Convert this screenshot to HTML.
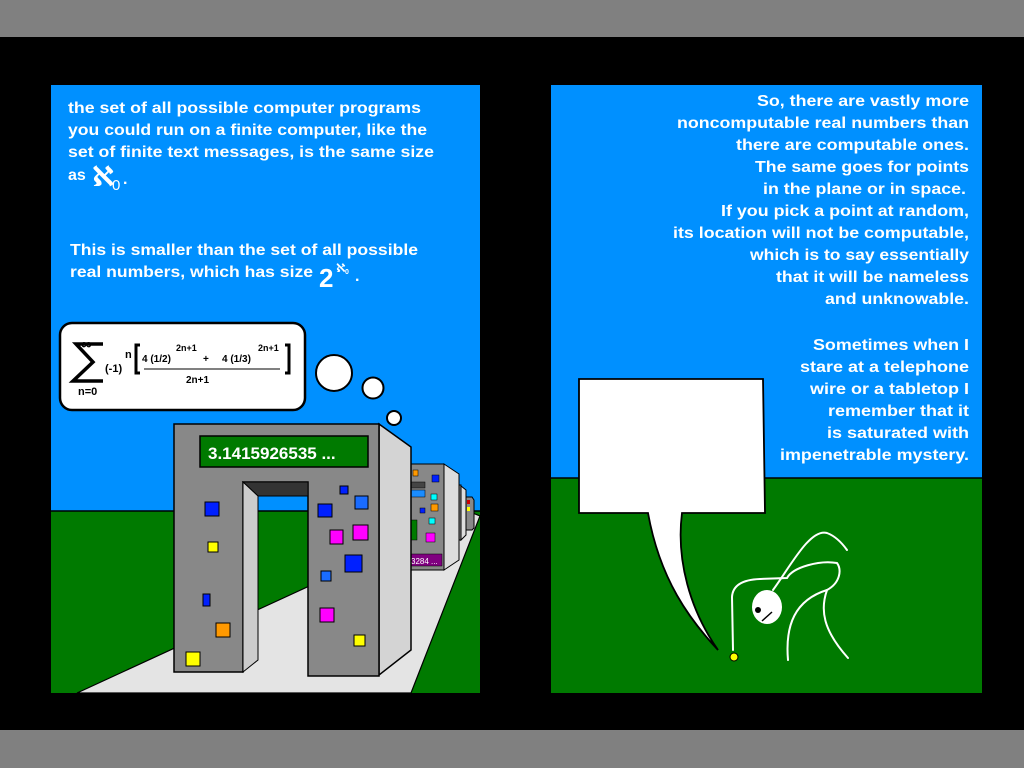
<!DOCTYPE html>
<html><head><meta charset="utf-8"><style>html,body{margin:0;padding:0;background:#000}svg{display:block}</style></head>
<body>
<svg width="1024" height="768" viewBox="0 0 1024 768" xmlns="http://www.w3.org/2000/svg" font-family="Liberation Sans, sans-serif" font-weight="bold">
<rect width="1024" height="768" fill="#000"/>
<rect width="1024" height="37" fill="#808080"/>
<rect y="730" width="1024" height="38" fill="#808080"/>
<!-- LEFT PANEL -->
<rect x="51" y="85" width="429" height="608" fill="#0090ff"/>
<rect x="51" y="511" width="429" height="182" fill="#007a00"/>
<line x1="51" y1="511" x2="480" y2="511" stroke="#000" stroke-width="1.5"/>
<polygon points="77,693 411,693 480,516 470,512" fill="#e4e4e4" stroke="#000" stroke-width="1.2"/>
<g fill="#fff" font-size="16">
<text x="68" y="113" textLength="353" lengthAdjust="spacingAndGlyphs">the set of all possible computer programs</text>
<text x="68" y="135" textLength="359" lengthAdjust="spacingAndGlyphs">you could run on a finite computer, like the</text>
<text x="68" y="157" textLength="366" lengthAdjust="spacingAndGlyphs">set of finite text messages, is the same size</text>
<text x="68" y="180">as</text>
<text x="92" y="186" font-size="28" font-family="DejaVu Sans, sans-serif">ℵ</text>
<text x="112" y="190" font-size="15" font-weight="normal">0</text>
<text x="123" y="184">.</text>
<text x="70" y="255" textLength="348" lengthAdjust="spacingAndGlyphs">This is smaller than the set of all possible</text>
<text x="70" y="277" textLength="243" lengthAdjust="spacingAndGlyphs">real numbers, which has size</text>
<text x="319" y="287" font-size="26">2</text>
<text x="336" y="272" font-size="12" font-family="DejaVu Sans, sans-serif">ℵ</text>
<text x="345" y="274" font-size="7">0</text>
<text x="355" y="281">.</text>
</g>
<!-- formula bubble -->
<rect x="60" y="323" width="245" height="87" rx="12" fill="#fff" stroke="#000" stroke-width="2.5"/>
<path d="M103,344 H76 L93,362 L73,381 H103" fill="none" stroke="#000" stroke-width="3.5" stroke-linejoin="miter"/>
<text x="81" y="349" font-size="15">∞</text>
<text x="78" y="395" font-size="11">n=0</text>
<text x="105" y="372" font-size="11">(-1)</text>
<text x="125" y="358" font-size="11">n</text>
<path d="M140,345 h-4 v28 h4" fill="none" stroke="#000" stroke-width="3"/>
<path d="M285,345 h4 v28 h-4" fill="none" stroke="#000" stroke-width="3"/>
<text x="142" y="362" font-size="10">4 (1/2)</text>
<text x="176" y="351" font-size="9">2n+1</text>
<text x="203" y="362" font-size="10">+</text>
<text x="222" y="362" font-size="10">4 (1/3)</text>
<text x="258" y="351" font-size="9">2n+1</text>
<line x1="144" y1="369" x2="280" y2="369" stroke="#000" stroke-width="1"/>
<text x="186" y="383" font-size="10">2n+1</text>
<circle cx="334" cy="373" r="18" fill="#fff" stroke="#000" stroke-width="2"/>
<circle cx="373" cy="388" r="10.5" fill="#fff" stroke="#000" stroke-width="2"/>
<circle cx="394" cy="418" r="7" fill="#fff" stroke="#000" stroke-width="2"/>
<!-- far buildings -->
<polygon points="466,497 472,497 474,500 474,528 472,530 466,530" fill="#888" stroke="#000"/>
<rect x="467" y="500" width="3" height="4" fill="#c00"/><rect x="467" y="507" width="3" height="4" fill="#ff0"/>
<polygon points="461,486 466,490 466,535 461,540" fill="#ddd" stroke="#000"/>
<rect x="452" y="485" width="9" height="55" fill="#888" stroke="#000"/>
<rect x="454" y="489" width="4" height="4" fill="#a00"/><rect x="454" y="497" width="3" height="30" fill="#1a6cff"/>
<polygon points="444,464 459,474 459,560 444,570" fill="#ddd" stroke="#000"/>
<rect x="408" y="464" width="36" height="106" fill="#888" stroke="#000"/>
<rect x="413" y="470" width="5" height="6" fill="#f90" stroke="#000" stroke-width=".5"/>
<rect x="432" y="475" width="7" height="7" fill="#0020ff" stroke="#000" stroke-width=".5"/>
<rect x="411" y="482" width="14" height="6" fill="#444" stroke="#000" stroke-width=".5"/>
<rect x="411" y="490" width="14" height="7" fill="#1a8cff" stroke="#000" stroke-width=".5"/>
<rect x="431" y="494" width="6" height="6" fill="#0ff" stroke="#000" stroke-width=".5"/>
<rect x="431" y="504" width="7" height="7" fill="#f90" stroke="#000" stroke-width=".5"/>
<rect x="420" y="508" width="5" height="5" fill="#0020ff" stroke="#000" stroke-width=".5"/>
<rect x="429" y="518" width="6" height="6" fill="#0ff" stroke="#000" stroke-width=".5"/>
<rect x="426" y="533" width="9" height="9" fill="#f0f" stroke="#000" stroke-width=".5"/>
<rect x="410" y="520" width="7" height="20" fill="#007a00" stroke="#000" stroke-width=".5"/>
<rect x="408" y="554" width="34" height="12" fill="#800080" stroke="#000" stroke-width=".5"/>
<text x="411" y="564" font-size="8" fill="#fff" font-weight="normal">3284 ...</text>
<!-- main arch -->
<polygon points="379,424 411,447 411,650 379,675" fill="#d4d4d4" stroke="#000" stroke-width="1.5"/>
<path d="M174,424 H379 V676 H308 V482 H243 V672 H174 Z" fill="#888" stroke="#000" stroke-width="1.5"/>
<polygon points="243,482 308,482 308,496 258,496" fill="#333" stroke="#000"/>
<polygon points="243,482 258,496 258,660 243,672" fill="#ccc" stroke="#000"/>
<rect x="200" y="436" width="168" height="31" fill="#007a00" stroke="#000" stroke-width="1.5"/>
<text x="208" y="459" font-size="17" fill="#fff">3.1415926535 ...</text>
<g stroke="#000" stroke-width="1">
<rect x="205" y="502" width="14" height="14" fill="#0020ff"/>
<rect x="208" y="542" width="10" height="10" fill="#ff0"/>
<rect x="203" y="594" width="7" height="12" fill="#0020ff"/>
<rect x="216" y="623" width="14" height="14" fill="#f90"/>
<rect x="186" y="652" width="14" height="14" fill="#ff0"/>
<rect x="340" y="486" width="8" height="8" fill="#0020ff"/>
<rect x="355" y="496" width="13" height="13" fill="#1a6cff"/>
<rect x="318" y="504" width="14" height="13" fill="#0020ff"/>
<rect x="330" y="530" width="13" height="14" fill="#f0f"/>
<rect x="353" y="525" width="15" height="15" fill="#f0f"/>
<rect x="345" y="555" width="17" height="17" fill="#0020ff"/>
<rect x="321" y="571" width="10" height="10" fill="#1a6cff"/>
<rect x="320" y="608" width="14" height="14" fill="#f0f"/>
<rect x="354" y="635" width="11" height="11" fill="#ff0"/>
</g>
<!-- RIGHT PANEL -->
<rect x="551" y="85" width="431" height="608" fill="#0090ff"/>
<rect x="551" y="478" width="431" height="215" fill="#007a00"/>
<line x1="551" y1="478" x2="982" y2="478" stroke="#000" stroke-width="1.5"/>
<g fill="#fff" font-size="16" text-anchor="end">
<text x="969" y="106" textLength="212" lengthAdjust="spacingAndGlyphs">So, there are vastly more</text>
<text x="969" y="128" textLength="292" lengthAdjust="spacingAndGlyphs">noncomputable real numbers than</text>
<text x="969" y="150" textLength="233" lengthAdjust="spacingAndGlyphs">there are computable ones.</text>
<text x="969" y="172" textLength="214" lengthAdjust="spacingAndGlyphs">The same goes for points</text>
<text x="966" y="194" textLength="203" lengthAdjust="spacingAndGlyphs">in the plane or in space.</text>
<text x="969" y="216" textLength="248" lengthAdjust="spacingAndGlyphs">If you pick a point at random,</text>
<text x="969" y="238" textLength="296" lengthAdjust="spacingAndGlyphs">its location will not be computable,</text>
<text x="969" y="260" textLength="219" lengthAdjust="spacingAndGlyphs">which is to say essentially</text>
<text x="969" y="282" textLength="193" lengthAdjust="spacingAndGlyphs">that it will be nameless</text>
<text x="969" y="304" textLength="144" lengthAdjust="spacingAndGlyphs">and unknowable.</text>
<text x="969" y="350" textLength="156" lengthAdjust="spacingAndGlyphs">Sometimes when I</text>
<text x="969" y="372" textLength="169" lengthAdjust="spacingAndGlyphs">stare at a telephone</text>
<text x="969" y="394" textLength="159" lengthAdjust="spacingAndGlyphs">wire or a tabletop I</text>
<text x="969" y="416" textLength="141" lengthAdjust="spacingAndGlyphs">remember that it</text>
<text x="969" y="438" textLength="142" lengthAdjust="spacingAndGlyphs">is saturated with</text>
<text x="969" y="460" textLength="189" lengthAdjust="spacingAndGlyphs">impenetrable mystery.</text>
</g>
<path d="M579,379 H763 L765,513 H682 C676,560 690,610 718,650 C690,620 660,580 648,513 H579 Z" fill="#fff" stroke="#000" stroke-width="1.8"/>
<g fill="none" stroke="#fff" stroke-width="2" stroke-linecap="round">
<path d="M733,650 L732,597 Q733,580 760,579 L787,578 C793,567 820,560 837,563 C842,570 840,583 827,590 C795,600 785,625 788,660"/>
<path d="M773,590 C790,567 810,528 827,533 C835,536 842,543 847,550"/>
<path d="M827,590 C820,610 823,630 848,658"/>
</g>
<ellipse cx="767" cy="607" rx="15" ry="17" fill="#fff"/>
<circle cx="758" cy="610" r="3" fill="#000"/>
<line x1="762" y1="621" x2="772" y2="612" stroke="#000" stroke-width="1.5"/>
<circle cx="734" cy="657" r="4" fill="#ff0" stroke="#000"/>
</svg>
</body></html>
